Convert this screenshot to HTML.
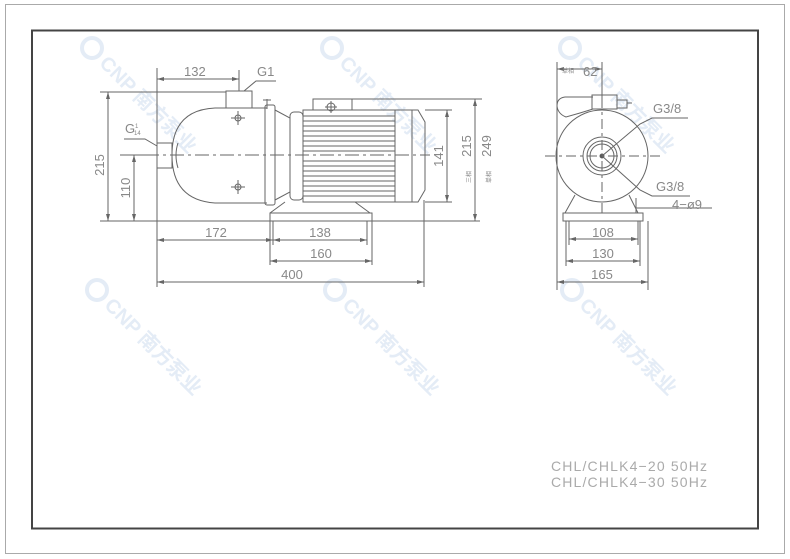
<!DOCTYPE html>
<html><head><meta charset="utf-8"><style>
html,body{margin:0;padding:0;background:#fff}
svg{display:block}
text{font-family:"Liberation Sans","Noto Sans CJK SC",sans-serif;fill:#888}
</style></head><body>
<svg width="790" height="559" viewBox="0 0 790 559" xmlns="http://www.w3.org/2000/svg">
<rect x="5.5" y="4.5" width="779" height="549" fill="none" stroke="#aaa" stroke-width="1"/>
<rect x="32" y="30.5" width="726" height="498" fill="none" stroke="#444" stroke-width="2"/>

<!-- watermarks -->
<g font-weight="bold" font-size="20">
<g transform="translate(92,48) rotate(45)"><circle cx="0" cy="0" r="10" fill="none" stroke="#e4ecf6" stroke-width="4"/><text x="16" y="7" style="fill:#e4ecf6">CNP 南方泵业</text></g>
<g transform="translate(332,48) rotate(45)"><circle cx="0" cy="0" r="10" fill="none" stroke="#e4ecf6" stroke-width="4"/><text x="16" y="7" style="fill:#e4ecf6">CNP 南方泵业</text></g>
<g transform="translate(570,48) rotate(45)"><circle cx="0" cy="0" r="10" fill="none" stroke="#e4ecf6" stroke-width="4"/><text x="16" y="7" style="fill:#e4ecf6">CNP 南方泵业</text></g>
<g transform="translate(97,290) rotate(45)"><circle cx="0" cy="0" r="10" fill="none" stroke="#e4ecf6" stroke-width="4"/><text x="16" y="7" style="fill:#e4ecf6">CNP 南方泵业</text></g>
<g transform="translate(335,290) rotate(45)"><circle cx="0" cy="0" r="10" fill="none" stroke="#e4ecf6" stroke-width="4"/><text x="16" y="7" style="fill:#e4ecf6">CNP 南方泵业</text></g>
<g transform="translate(572,290) rotate(45)"><circle cx="0" cy="0" r="10" fill="none" stroke="#e4ecf6" stroke-width="4"/><text x="16" y="7" style="fill:#e4ecf6">CNP 南方泵业</text></g>
</g>

<g fill="none" stroke="#666" stroke-width="1">
<rect x="157" y="143" width="15" height="25"/>
<path d="M267,108 L215,108 Q172,110 172,155 Q172,200 215,203 L267,203"/>
<path d="M178,143 Q174,155 178,168"/>
<rect x="226" y="91" width="26" height="17"/>
<circle cx="238" cy="118" r="3"/><circle cx="238" cy="187" r="3"/>
<path d="M238,111v14M231,118h14M238,180v14M231,187h14"/>
<rect x="265" y="105" width="10" height="100" rx="2"/>
<path d="M267,99v10M263,100h8"/>
<path d="M275,110 L290,118 L290,192 L275,200"/>
<rect x="290" y="112" width="13" height="88" rx="4"/>
<rect x="303" y="110" width="92" height="92"/>
<path d="M303,116h92M303,121h92M303,126h92M303,131h92M303,136h92M303,141h92M303,146h92M303,151h92M303,161h92M303,166h92M303,171h92M303,176h92M303,181h92M303,186h92M303,191h92M303,196h92"/>
<rect x="313" y="99" width="39" height="11"/>
<circle cx="331" cy="107" r="4"/><path d="M331,101v12M325,107h12"/>
<path d="M395,110 L418,110 L425,122 L425,190 L418,202 L395,202"/>
<path d="M412,110v92"/>
<path d="M285,202 L270,213 M355,202 L370,213"/>
<rect x="270" y="213" width="102" height="8"/>
<path d="M120,155 H430" stroke-dasharray="14,4,3,4"/>
<path d="M157,68V287 M424,200V287 M270,221V265 M372,221V265 M273,221V245 M367,221V245 M239,70V91"/>
<path d="M100,92H226 M100,221H480 M126,155H157 M352,99H482 M425,110H452 M425,202H452"/>
<path d="M108,92V221 M134,155V221 M157,79H239 M157,240H273 M273,240H367 M270,261H372 M157,282H424 M447,110V202 M475,99V221"/>
<path d="M244,91 L256,81 H276 M157,146 L145,139 H124"/>
<circle cx="602" cy="156" r="46"/>
<circle cx="602" cy="156" r="19"/><circle cx="602" cy="156" r="15"/><circle cx="602" cy="156" r="12"/>
<circle cx="602" cy="156" r="2" fill="#444"/>
<rect x="592" y="95" width="25" height="14"/>
<path d="M593,97 L565,97 Q557,98 557,106 Q558,114 566,117 L580,113 L593,109"/>
<path d="M617,100 h10 v8 h-10 M627,103 h5"/>
<path d="M575,195 L565,213 M629,195 L638,213"/>
<rect x="563" y="213" width="80" height="8"/>
<path d="M545,156H660 M602,98V214" stroke-dasharray="10,4,3,4"/>
<path d="M602,156 L640,124 L652,118 H688 M602,156 L640,190 L652,196 H690 M636,208 H712"/>
<path d="M557,62V290 M602,62V98 M569,221V245 M638,221V245 M566,221V266 M640,221V266 M648,221V290 M636,198V213"/>
<path d="M557,69H602 M569,239H638 M566,261H640 M557,282H648"/>
</g>
<g fill="#666">
<path d="M108,92l-2,7h4z M108,221l-2,-7h4z M134,155l-2,7h4z M134,221l-2,-7h4z M447,110l-2,7h4z M447,202l-2,-7h4z M475,99l-2,7h4z M475,221l-2,-7h4z"/>
<path d="M157,79l7,-2v4z M239,79l-7,-2v4z M157,240l7,-2v4z M273,240l-7,-2v4z M273,240l7,-2v4z M367,240l-7,-2v4z M270,261l7,-2v4z M372,261l-7,-2v4z M157,282l7,-2v4z M424,282l-7,-2v4z"/>
<path d="M557,69l7,-2v4z M602,69l-7,-2v4z M569,239l7,-2v4z M638,239l-7,-2v4z M566,261l7,-2v4z M640,261l-7,-2v4z M557,282l7,-2v4z M648,282l-7,-2v4z"/>
</g>
<g font-size="13">
<text x="184" y="76">132</text>
<text x="257" y="76">G1</text>
<text x="125" y="133">G</text><text x="135" y="128" font-size="6">1</text><text x="134" y="135" font-size="6">14</text>
<text x="104" y="165" transform="rotate(-90 104 165)" text-anchor="middle">215</text>
<text x="130" y="188" transform="rotate(-90 130 188)" text-anchor="middle">110</text>
<text x="216" y="237" text-anchor="middle">172</text>
<text x="320" y="237" text-anchor="middle">138</text>
<text x="321" y="258" text-anchor="middle">160</text>
<text x="292" y="279" text-anchor="middle">400</text>
<text x="443" y="156" transform="rotate(-90 443 156)" text-anchor="middle">141</text>
<text x="471" y="146" transform="rotate(-90 471 146)" text-anchor="middle">215</text>
<text x="491" y="146" transform="rotate(-90 491 146)" text-anchor="middle">249</text>
<text x="471" y="177" font-size="6" transform="rotate(-90 471 177)" text-anchor="middle">三相</text>
<text x="491" y="177" font-size="6" transform="rotate(-90 491 177)" text-anchor="middle">单相</text>
<text x="562" y="73" font-size="6">单相</text>
<text x="583" y="76">62</text>
<text x="653" y="113">G3/8</text>
<text x="656" y="191">G3/8</text>
<text x="672" y="209">4−ø9</text>
<text x="603" y="237" text-anchor="middle">108</text>
<text x="603" y="258" text-anchor="middle">130</text>
<text x="602" y="279" text-anchor="middle">165</text>
</g>
<g font-size="14">
<text x="551" y="471" textLength="156" style="fill:#aaa">CHL/CHLK4−20  50Hz</text>
<text x="551" y="487" textLength="156" style="fill:#aaa">CHL/CHLK4−30  50Hz</text>
</g>
</svg>
</body></html>
